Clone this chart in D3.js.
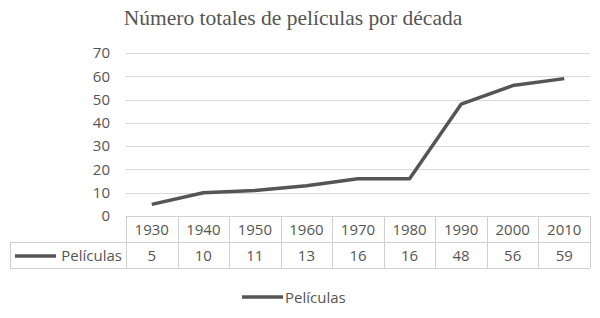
<!DOCTYPE html>
<html><head><meta charset="utf-8">
<script src="https://cdn.jsdelivr.net/npm/d3@7"></script>
<style>body{margin:0;background:#fff}</style>
</head><body><svg id="c" width="600" height="318"></svg>
<script>
const categories = ["1930","1940","1950","1960","1970","1980","1990","2000","2010"];
const values = [5,10,11,13,16,16,48,56,59];
const yTicks = [0,10,20,30,40,50,60,70];
const seriesName = "Películas";
const title = "Número totales de películas por década";

const svg = d3.select("#c");
const mLeft = 126, mRight = 590, mTop = 53, mBottom = 216;
const rowH = 26;
const txt = "#555555", grid = "#d9d9d9", lineC = "#555555";
const sans = "'Open Sans', sans-serif";
const fs = 15;

const x = d3.scaleBand().domain(categories).range([mLeft, mRight]).padding(0);
const y = d3.scaleLinear().domain([0,70]).range([mBottom, mTop]);

svg.append("text").attr("x", 293).attr("y", 25).attr("text-anchor","middle")
  .attr("font-family","'Liberation Serif', serif").attr("font-size",21.5).attr("fill",txt).text(title);

// gridlines
svg.append("g").selectAll("line").data(yTicks.filter(d=>d>0)).join("line")
  .attr("x1", mLeft).attr("x2", mRight).attr("y1", d=>Math.round(y(d))+0.5).attr("y2", d=>Math.round(y(d))+0.5)
  .attr("stroke", grid).attr("stroke-width",1);

// y axis labels
const yAxis = d3.axisLeft(y).tickValues(yTicks).tickSize(0).tickPadding(0);
const ga = svg.append("g").attr("transform",`translate(${mLeft-16},0)`).call(yAxis);
ga.select(".domain").remove();
ga.selectAll("text").attr("font-family",sans).attr("font-size",fs).attr("fill",txt);

// line
const line = d3.line().x((d,i)=>x(categories[i])+x.bandwidth()/2).y(d=>y(d));
svg.append("path").datum(values).attr("d", line).attr("fill","none")
  .attr("stroke", lineC).attr("stroke-width",3.5).attr("stroke-linejoin","round");

// data table
const tb = svg.append("g");
const tTop = mBottom, tMid = mBottom+rowH, tBot = mBottom+2*rowH;
const tl = 10;
const bc = "#d0d0d0";
tb.append("line").attr("x1",mLeft).attr("x2",mRight).attr("y1",tTop+0.5).attr("y2",tTop+0.5).attr("stroke",bc);
tb.append("line").attr("x1",tl).attr("x2",mRight).attr("y1",tMid+0.5).attr("y2",tMid+0.5).attr("stroke",bc);
tb.append("line").attr("x1",tl).attr("x2",mRight).attr("y1",tBot+0.5).attr("y2",tBot+0.5).attr("stroke",bc);
const vx = categories.map(c=>x(c)).concat([mRight]);
tb.selectAll("line.v").data(vx).join("line").attr("class","v")
  .attr("x1",d=>Math.round(d)+0.5).attr("x2",d=>Math.round(d)+0.5).attr("y1",tTop).attr("y2",tBot).attr("stroke",bc);
tb.append("line").attr("x1",tl+0.5).attr("x2",tl+0.5).attr("y1",tMid).attr("y2",tBot).attr("stroke",bc);
tb.selectAll("text.h").data(categories).join("text").attr("class","h")
  .attr("x",d=>x(d)+x.bandwidth()/2).attr("y",tTop+rowH/2+5.5).attr("text-anchor","middle")
  .attr("font-family",sans).attr("font-size",fs).attr("fill",txt).text(d=>d);
tb.selectAll("text.v").data(values).join("text").attr("class","v")
  .attr("x",(d,i)=>x(categories[i])+x.bandwidth()/2).attr("y",tMid+rowH/2+5.5).attr("text-anchor","middle")
  .attr("font-family",sans).attr("font-size",fs).attr("fill",txt).text(d=>d);
tb.append("line").attr("x1",15).attr("x2",56).attr("y1",tMid+rowH/2+1).attr("y2",tMid+rowH/2+1)
  .attr("stroke",lineC).attr("stroke-width",3.5);
tb.append("text").attr("x",122).attr("y",tMid+rowH/2+5.5).attr("text-anchor","end")
  .attr("font-family",sans).attr("font-size",fs).attr("fill",txt).text(seriesName);

// legend
const lg = svg.append("g");
lg.append("line").attr("x1",242).attr("x2",283).attr("y1",297).attr("y2",297).attr("stroke",lineC).attr("stroke-width",3.5);
lg.append("text").attr("x",285).attr("y",302.5).attr("font-family",sans).attr("font-size",fs).attr("fill",txt).text(seriesName);
</script></body></html>
